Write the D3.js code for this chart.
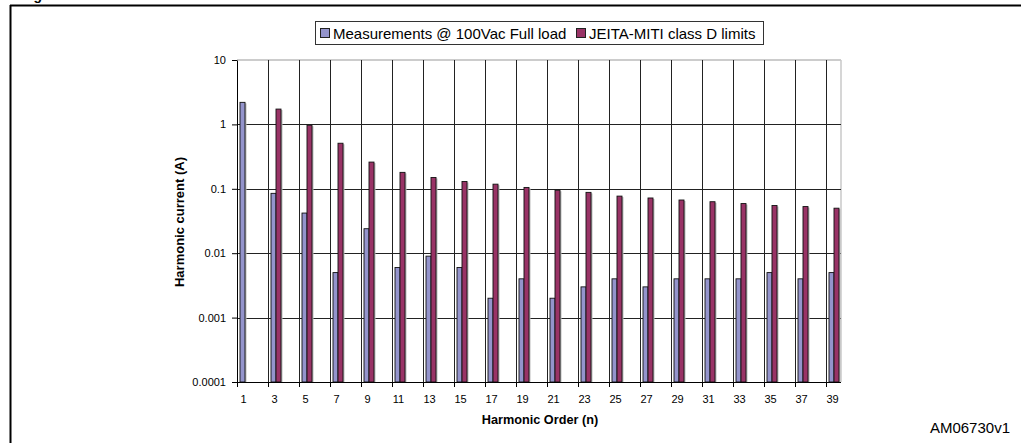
<!DOCTYPE html>
<html>
<head>
<meta charset="utf-8">
<script src="https://cdn.jsdelivr.net/npm/d3@7"></script>
<style>
  body { margin: 0; background: #fff; }
  svg { display: block; font-family: "Liberation Sans", Arial, sans-serif; }
</style>
</head>
<body>
<svg id="chart" width="1021" height="443"></svg>
<script>
// harmonic orders (odd only)
const orders = [1, 3, 5, 7, 9, 11, 13, 15, 17, 19, 21, 23, 25, 27, 29, 31, 33, 35, 37, 39];
// measured harmonic current @ 100Vac full load (A)
const measured = [2.2, 0.085, 0.042, 0.005, 0.024, 0.006, 0.009, 0.006, 0.002, 0.004,
                  0.002, 0.003, 0.004, 0.003, 0.004, 0.004, 0.004, 0.005, 0.004, 0.005];
// JEITA-MITI class D limits (A), none for the fundamental
const limits = [null, 1.73, 0.97, 0.51, 0.26, 0.18, 0.15, 0.13, 0.118, 0.105,
                0.095, 0.088, 0.077, 0.072, 0.067, 0.063, 0.059, 0.055, 0.053, 0.050];
const yTicks = [10, 1, 0.1, 0.01, 0.001, 0.0001];
const yTickLabels = ['10', '1', '0.1', '0.01', '0.001', '0.0001'];

const seriesNames = ['Measurements @ 100Vac Full load', 'JEITA-MITI class D limits'];
const colors = ['#9494cc', '#993366'];

const svg = d3.select('#chart');

// plot area
const pLeft = 237, pRight = 841, pTop = 60, pBottom = 382;
const step = 31;

const x = d3.scaleBand()
  .domain(orders)
  .range([pLeft, pLeft + step * orders.length]);

const y = d3.scaleLog()
  .domain([0.0001, 10])
  .range([pBottom, pTop]);

// page frame (figure is cropped at the top)
svg.append('text')
  .attr('x', 21).attr('y', -0.5)
  .attr('font-size', 14).attr('font-weight', 'bold')
  .text('Figure');
svg.append('line')
  .attr('x1', 10).attr('x2', 1021).attr('y1', 5.5).attr('y2', 5.5)
  .attr('stroke', '#000').attr('stroke-width', 2);
svg.append('line')
  .attr('x1', 10.5).attr('x2', 10.5).attr('y1', 5).attr('y2', 443)
  .attr('stroke', '#000').attr('stroke-width', 2);

// plot border (top / right)
svg.append('line')
  .attr('x1', pLeft).attr('x2', pRight).attr('y1', pTop).attr('y2', pTop)
  .attr('stroke', '#999');
svg.append('line')
  .attr('x1', pRight).attr('x2', pRight).attr('y1', pTop).attr('y2', pBottom)
  .attr('stroke', '#c8c8c8').attr('stroke-width', 1.5);

// grid
const grid = svg.append('g').attr('class', 'grid');
grid.selectAll('line.h')
  .data(yTicks.slice(1, -1))
  .enter().append('line')
  .attr('class', 'h')
  .attr('x1', pLeft).attr('x2', pRight)
  .attr('y1', d => Math.round(y(d)) + 0.5).attr('y2', d => Math.round(y(d)) + 0.5)
  .attr('stroke', '#222');
grid.selectAll('line.v')
  .data(orders.slice(1))
  .enter().append('line')
  .attr('class', 'v')
  .attr('x1', d => Math.round(x(d)) + 0.5).attr('x2', d => Math.round(x(d)) + 0.5)
  .attr('y1', pTop).attr('y2', pBottom)
  .attr('stroke', '#222');

// bars
const barW = 5;
const drawBars = function (values, offset, color) {
  const data = orders.map((o, i) => ({ order: o, v: values[i] })).filter(d => d.v != null);
  const g = svg.append('g');
  // shadow
  g.selectAll('rect.shadow')
    .data(data)
    .enter().append('rect')
    .attr('class', 'shadow')
    .attr('x', d => x(d.order) + offset + 1.5)
    .attr('y', d => y(d.v) + 1)
    .attr('width', barW)
    .attr('height', d => pBottom - y(d.v) - 1)
    .attr('fill', '#bbb');
  g.selectAll('rect.bar')
    .data(data)
    .enter().append('rect')
    .attr('class', 'bar')
    .attr('x', d => x(d.order) + offset)
    .attr('y', d => y(d.v))
    .attr('width', barW)
    .attr('height', d => pBottom - y(d.v))
    .attr('fill', color)
    .attr('stroke', '#111')
    .attr('stroke-width', 0.9);
};
drawBars(measured, 3, colors[0]);
drawBars(limits, 8, colors[1]);

// y axis
const yAxis = d3.axisLeft(y)
  .tickValues(yTicks)
  .tickFormat((d, i) => yTickLabels[i])
  .tickSize(5)
  .tickSizeOuter(0);
const gY = svg.append('g')
  .attr('transform', `translate(${pLeft},0)`)
  .call(yAxis);
gY.select('.domain').attr('stroke', '#000');
gY.selectAll('.tick text')
  .attr('font-size', 11).attr('font-family', '"Liberation Sans", Arial, sans-serif')
  .attr('fill', '#000').attr('x', -11);

// x axis
const xAxis = d3.axisBottom(x).tickSize(0).tickSizeOuter(0);
const gX = svg.append('g')
  .attr('transform', `translate(0,${pBottom})`)
  .call(xAxis);
gX.select('.domain').attr('d', `M${pLeft},0.5H${pRight}`).attr('stroke', '#000');
gX.selectAll('.tick text')
  .attr('font-size', 11).attr('font-family', '"Liberation Sans", Arial, sans-serif')
  .attr('fill', '#000')
  .attr('dx', -(x.bandwidth() / 2 - 6.5))
  .attr('y', 13);
svg.append('g').selectAll('line')
  .data(orders)
  .enter().append('line')
  .attr('x1', d => Math.round(x(d)) + 0.5).attr('x2', d => Math.round(x(d)) + 0.5)
  .attr('y1', pBottom).attr('y2', pBottom + 5)
  .attr('stroke', '#000');

// axis titles
svg.append('text')
  .attr('x', 540).attr('y', 424)
  .attr('text-anchor', 'middle')
  .attr('font-size', 12.7).attr('font-weight', 'bold')
  .text('Harmonic Order (n)');
svg.append('text')
  .attr('transform', `translate(184,${(pTop + pBottom) / 2 + 1}) rotate(-90)`)
  .attr('text-anchor', 'middle')
  .attr('font-size', 13).attr('font-weight', 'bold')
  .text('Harmonic current (A)');

// legend
const legend = svg.append('g');
legend.append('rect')
  .attr('x', 315.5).attr('y', 21.5).attr('width', 448).attr('height', 23)
  .attr('fill', '#fff').attr('stroke', '#333');
const legendX = [320, 576];
seriesNames.forEach((name, i) => {
  legend.append('rect')
    .attr('x', legendX[i] + 0.5).attr('y', 28.5).attr('width', 9).attr('height', 9)
    .attr('fill', colors[i]).attr('stroke', '#222');
  legend.append('text')
    .attr('x', legendX[i] + 13).attr('y', 38.5)
    .attr('font-size', 15)
    .text(name);
});

// figure code
svg.append('text')
  .attr('x', 1010).attr('y', 433)
  .attr('text-anchor', 'end')
  .attr('font-size', 15)
  .text('AM06730v1');
</script>
</body>
</html>
